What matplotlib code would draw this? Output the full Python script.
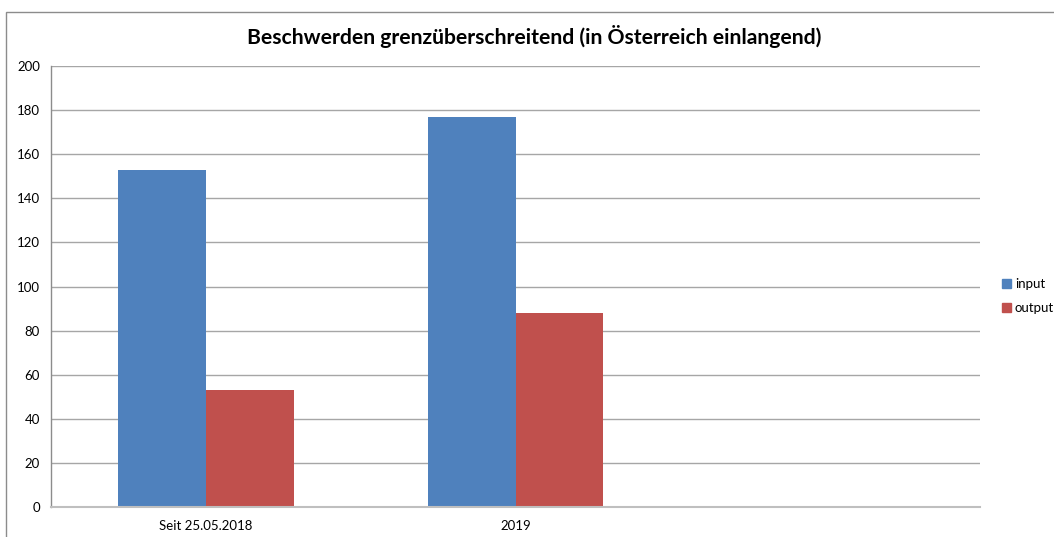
import matplotlib
matplotlib.use("Agg")
import matplotlib.pyplot as plt
from matplotlib.patches import Rectangle, Patch
import numpy as np

categories = ["Seit 25.05.2018", "2019", ""]
input_vals = [153, 177, 0]
output_vals = [53, 88, 0]
series_names = ["input", "output"]
yticks = [0, 20, 40, 60, 80, 100, 120, 140, 160, 180, 200]
title = "Beschwerden grenzüberschreitend (in Österreich einlangend)"

plt.rcParams['font.family'] = ['Lato', 'DejaVu Sans']

W, H = 1054, 537
fig = plt.figure(figsize=(W/100, H/100), dpi=100)
fig.patch.set_facecolor("white")

# outer chart border (extends beyond right/bottom edge)
fig.patches.append(Rectangle((6/W, -0.1), 1.2, 1 - 12/H + 0.1, transform=fig.transFigure,
                             fill=False, edgecolor="#8c8c8c", linewidth=1.0))

ax = fig.add_axes([51/W, 1 - 507/H, (980-51)/W, (507-66)/H])
x = np.arange(len(categories))
w = 0.284
blue = "#4f81bd"
red = "#c0504d"
ax.bar(x - w/2, input_vals, width=w, color=blue, label=series_names[0], zorder=3)
ax.bar(x + w/2, output_vals, width=w, color=red, label=series_names[1], zorder=3)

ax.set_xlim(-0.5, len(categories) - 0.5)
ax.set_ylim(0, 200)
ax.set_yticks(yticks)
ax.set_yticklabels([str(v) for v in yticks], fontsize=9.5)
ax.set_xticks(x)
ax.set_xticklabels(categories, fontsize=9.5)
ax.tick_params(length=0, pad=8)
ax.tick_params(axis='x', pad=9)
ax.yaxis.grid(True, color="#a6a6a6", linewidth=1.0, zorder=0)
ax.set_axisbelow(True)
for s in ["top", "right"]:
    ax.spines[s].set_visible(False)
ax.spines["left"].set_color("#8c8c8c")
ax.spines["left"].set_linewidth(1.0)
ax.spines["bottom"].set_color("#bfbfbf")
ax.spines["bottom"].set_linewidth(1.5)
ax.spines["bottom"].set_zorder(4)

fig.text(534/W, 1 - 37/H, title, ha="center", va="center", fontsize=15.2, fontweight="bold")

handles = [Patch(color=blue), Patch(color=red)]
fig.legend(handles, series_names, loc="center left", bbox_to_anchor=(995/W, 1 - 296/H),
           frameon=False, fontsize=9.5, handlelength=0.7, handleheight=0.7,
           handletextpad=0.3, labelspacing=0.9, borderpad=0)

fig.savefig("out.png", dpi=100, facecolor="white")
